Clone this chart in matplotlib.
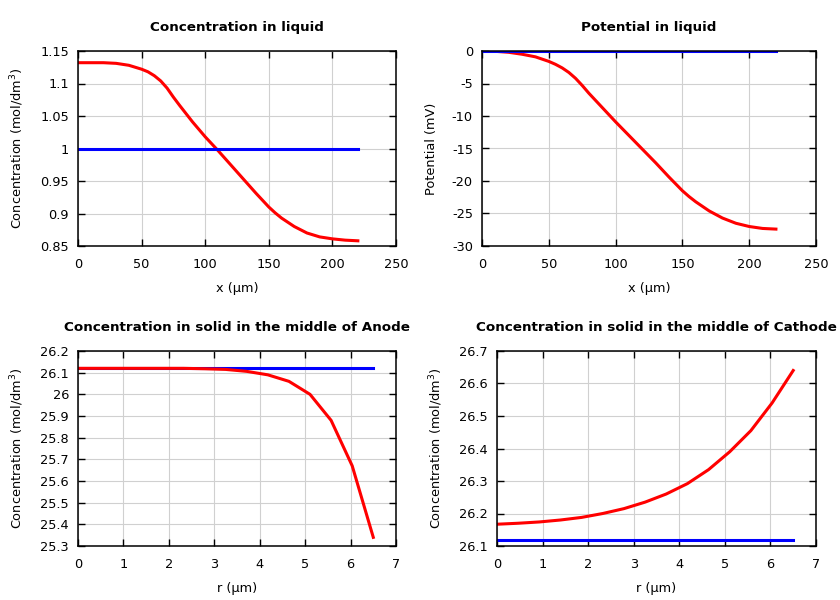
import numpy as np
import matplotlib
matplotlib.use("Agg")
import matplotlib.pyplot as plt
from matplotlib.ticker import FuncFormatter, MultipleLocator
from matplotlib import rcParams as rcp

rcp['font.family'] = 'DejaVu Sans'
rcp['font.size'] = 9.3
rcp['axes.unicode_minus'] = False

# concentration in liquid (mol/dm3) vs x (um)
x_liq = [0, 10, 20, 30, 40, 50, 55, 60, 65, 70, 75, 80, 90, 100, 110, 120, 130,
         140, 150, 155, 160, 170, 180, 190, 200, 210, 220]
c_liq = [1.132, 1.132, 1.132, 1.131, 1.128, 1.122, 1.118, 1.112, 1.104, 1.093,
         1.079, 1.066, 1.041, 1.018, 0.997, 0.975, 0.953, 0.931, 0.910, 0.901,
         0.893, 0.880, 0.870, 0.864, 0.861, 0.859, 0.858]
c_liq0 = 1.0

# potential in liquid (mV)
phi_liq = [0.0, -0.05, -0.2, -0.5, -0.9, -1.6, -2.05, -2.6, -3.3, -4.2, -5.3,
           -6.5, -8.7, -10.9, -13.0, -15.1, -17.2, -19.4, -21.5, -22.4, -23.2,
           -24.6, -25.7, -26.5, -27.0, -27.3, -27.4]
phi_liq0 = 0.0

# solid particle concentrations vs r (um)
r_sol = [0.0, 0.464, 0.929, 1.393, 1.857, 2.321, 2.786, 3.25, 3.714, 4.179,
         4.643, 5.107, 5.571, 6.036, 6.5]
c_anode = [26.12, 26.12, 26.12, 26.12, 26.12, 26.12, 26.118, 26.115, 26.106,
           26.09, 26.06, 26.0, 25.88, 25.67, 25.34]
c_cathode = [26.167, 26.170, 26.174, 26.180, 26.188, 26.200, 26.215, 26.235,
             26.260, 26.292, 26.335, 26.390, 26.455, 26.540, 26.640]
c_sol0 = 26.12

W, H = 840, 600
fig = plt.figure(figsize=(8.4, 6), dpi=100)

def mkax(l, r, t, b):
    return fig.add_axes([l / W, 1 - b / H, (r - l) / W, (b - t) / H])

fmt = FuncFormatter(lambda v, p: '%g' % round(v, 6))

def style(ax, title, xlabel, ylabel, xlim, ylim, xstep, ystep):
    ax.set_xlim(*xlim)
    ax.set_ylim(*ylim)
    ax.xaxis.set_major_locator(MultipleLocator(xstep))
    ax.yaxis.set_major_locator(MultipleLocator(ystep))
    ax.xaxis.set_major_formatter(fmt)
    ax.yaxis.set_major_formatter(fmt)
    ax.grid(True, color='#d0d0d0', linewidth=0.8)
    ax.set_axisbelow(True)
    ax.tick_params(direction='in', top=True, right=True, length=5, width=1,
                   labelsize=9.3, pad=6.5)
    ax.tick_params(axis='x', pad=8.5)
    for s in ax.spines.values():
        s.set_linewidth(1.1)
    ax.set_title(title, fontweight='bold', fontsize=9.7, pad=14.5)
    ax.set_xlabel(xlabel, labelpad=8)
    ax.set_ylabel(ylabel, labelpad=10)

lw = 2.2
ax1 = mkax(78, 396, 51, 246)
ax1.plot(x_liq, c_liq, color='red', lw=lw)
ax1.plot([x_liq[0], x_liq[-1]], [c_liq0, c_liq0], color='blue', lw=lw)
style(ax1, 'Concentration in liquid', 'x (µm)', 'Concentration (mol/dm$^3$)',
      (0, 250), (0.85, 1.15), 50, 0.05)

ax2 = mkax(482, 816, 51, 246)
ax2.plot(x_liq, phi_liq, color='red', lw=lw)
ax2.plot([x_liq[0], x_liq[-1]], [phi_liq0, phi_liq0], color='blue', lw=lw)
style(ax2, 'Potential in liquid', 'x (µm)', 'Potential (mV)',
      (0, 250), (-30, 0), 50, 5)

ax3 = mkax(78, 396, 351, 546)
ax3.plot([r_sol[0], r_sol[-1]], [c_sol0, c_sol0], color='blue', lw=lw)
ax3.plot(r_sol, c_anode, color='red', lw=lw)
style(ax3, 'Concentration in solid in the middle of Anode', 'r (µm)',
      'Concentration (mol/dm$^3$)', (0, 7), (25.3, 26.2), 1, 0.1)

ax4 = mkax(497, 816, 351, 546)
ax4.plot(r_sol, c_cathode, color='red', lw=lw)
ax4.plot([r_sol[0], r_sol[-1]], [c_sol0, c_sol0], color='blue', lw=lw)
style(ax4, 'Concentration in solid in the middle of Cathode', 'r (µm)',
      'Concentration (mol/dm$^3$)', (0, 7), (26.1, 26.7), 1, 0.1)

fig.savefig('out.png', dpi=100)
